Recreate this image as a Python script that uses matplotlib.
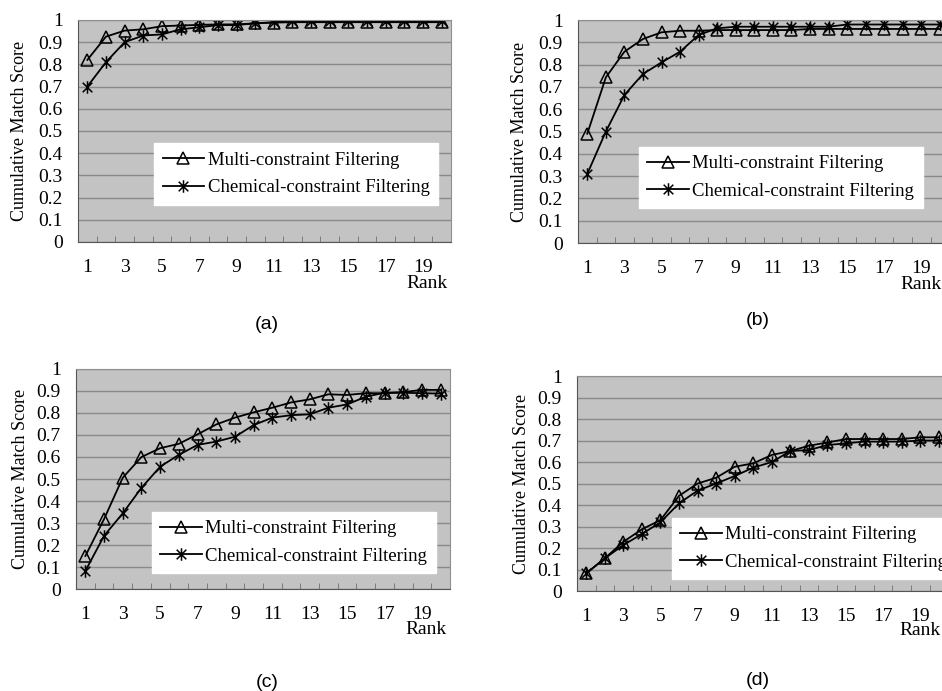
import numpy as np
import matplotlib.pyplot as plt
from matplotlib.path import Path

ranks = np.arange(1, 21)

# (a)
multi_a = [0.82, 0.925, 0.952, 0.958, 0.972, 0.975, 0.978, 0.98, 0.98, 0.985,
           0.988, 0.99, 0.99, 0.99, 0.99, 0.99, 0.99, 0.99, 0.99, 0.99]
chem_a = [0.70, 0.81, 0.90, 0.93, 0.935, 0.958, 0.967, 0.977, 0.977, 0.985,
          0.99, 0.995, 0.995, 0.995, 0.995, 0.995, 0.995, 0.995, 0.995, 0.995]
# (b)
multi_b = [0.49, 0.743, 0.858, 0.915, 0.945, 0.952, 0.952, 0.955, 0.955, 0.955,
           0.955, 0.955, 0.96, 0.96, 0.96, 0.96, 0.96, 0.96, 0.96, 0.96]
chem_b = [0.31, 0.50, 0.664, 0.758, 0.81, 0.858, 0.933, 0.963, 0.97, 0.97,
          0.97, 0.97, 0.97, 0.97, 0.98, 0.98, 0.98, 0.98, 0.98, 0.98]
# (c)
multi_c = [0.15, 0.318, 0.506, 0.60, 0.64, 0.66, 0.703, 0.748, 0.779, 0.803,
           0.824, 0.848, 0.862, 0.885, 0.882, 0.89, 0.89, 0.895, 0.905, 0.905]
chem_c = [0.082, 0.242, 0.344, 0.46, 0.556, 0.61, 0.655, 0.67, 0.692, 0.745,
          0.779, 0.79, 0.794, 0.824, 0.839, 0.874, 0.892, 0.892, 0.89, 0.888]
# (d)
multi_d = [0.082, 0.152, 0.229, 0.287, 0.33, 0.443, 0.50, 0.527, 0.578, 0.594,
           0.633, 0.651, 0.676, 0.691, 0.707, 0.707, 0.707, 0.707, 0.715, 0.715]
chem_d = [0.082, 0.152, 0.214, 0.265, 0.32, 0.408, 0.467, 0.50, 0.535, 0.574,
          0.60, 0.651, 0.656, 0.679, 0.687, 0.695, 0.695, 0.695, 0.70, 0.70]

labels = ["Multi-constraint Filtering", "Chemical-constraint Filtering"]
panel_names = ["(a)", "(b)", "(c)", "(d)"]

# excel style star: X with a vertical bar
star = Path([(-1, -1), (1, 1), (-1, 1), (1, -1), (0, -1.3), (0, 1.3)],
            [Path.MOVETO, Path.LINETO, Path.MOVETO, Path.LINETO, Path.MOVETO, Path.LINETO])

serif = ["Liberation Serif", "DejaVu Serif"]
plt.rcParams['font.family'] = serif

fig = plt.figure(figsize=(9.42, 6.91), dpi=100)

# axes rect (figure fractions), legend anchor, ylabel x, rank x, panel name position
panels = [
    ([0.0828, 0.6498, 0.396, 0.3213], (0.204, 0.167), -0.133, 0.99, (0.2834, 0.5297)),
    ([0.6136, 0.6483, 0.394, 0.3227], (0.164, 0.157), -0.134, 0.981, (0.8047, 0.5369)),
    ([0.0807, 0.1476, 0.397, 0.3184], (0.203, 0.073), -0.126, 0.99, (0.2834, 0.013)),
    ([0.6125, 0.1447, 0.394, 0.3111], (0.256, 0.056), -0.126, 0.981, (0.8047, 0.0159)),
]
data = [(multi_a, chem_a), (multi_b, chem_b), (multi_c, chem_c), (multi_d, chem_d)]

for (rect, leg_xy, ylab_x, rank_x, name_xy), (multi, chem), name in zip(panels, data, panel_names):
    ax = fig.add_axes(rect)
    ax.set_facecolor("#c3c3c3")
    ax.plot(ranks, multi, color="black", lw=1.3, marker="^", ms=9,
            mfc="none", mec="black", mew=1.1, label=labels[0])
    ax.plot(ranks, chem, color="black", lw=1.3, marker=star, ms=9,
            mec="black", mew=1.1, label=labels[1])
    ax.set_xlim(0.5, 20.5)
    ax.set_ylim(0, 1)
    ax.set_yticks(np.arange(0, 1.01, 0.1))
    ax.set_yticklabels(["0"] + ["%.1f" % v for v in np.arange(0.1, 0.95, 0.1)] + ["1"])
    ax.set_xticks(np.arange(1, 21, 2))
    ax.set_xticks(np.arange(1.5, 20.5, 1), minor=True)
    ax.tick_params(axis="x", which="major", length=0, pad=12, labelsize=14)
    ax.tick_params(axis="x", which="minor", direction="in", length=4, color="#707070")
    ax.tick_params(axis="y", length=0, pad=11, labelsize=14)
    ax.grid(axis="y", color="#8a8a8a", lw=1)
    ax.set_axisbelow(True)
    for s in ["top", "right"]:
        ax.spines[s].set_color("#909090")
    for s in ["left", "bottom"]:
        ax.spines[s].set_color("#555555")
    ax.set_ylabel("Cumulative Match Score", fontsize=13)
    ax.yaxis.set_label_coords(ylab_x, 0.5)
    ax.text(rank_x, -0.185, "Rank", transform=ax.transAxes, ha="right", va="center", fontsize=14)
    leg = ax.legend(loc="lower left", bbox_to_anchor=leg_xy, borderaxespad=0, fontsize=13.5,
                    frameon=True, fancybox=False, edgecolor="white", framealpha=1,
                    handlelength=2.2, labelspacing=0.55, borderpad=0.45, handletextpad=0.2)
    fig.text(name_xy[0], name_xy[1], name, ha="center", va="center", fontsize=14,
             family=["Liberation Sans", "DejaVu Sans"])

fig.savefig("out.png", dpi=100)
